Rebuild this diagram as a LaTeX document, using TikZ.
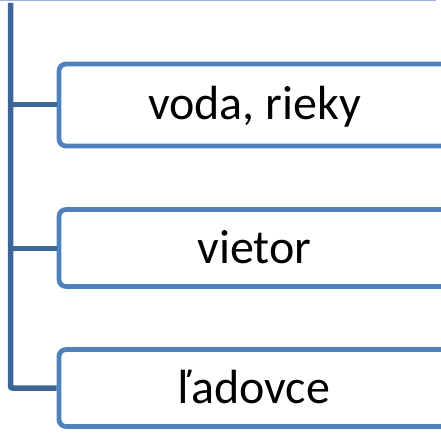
\documentclass[tikz,border=0pt]{standalone}
\usepackage{fontspec}
\setmainfont{Carlito}
\definecolor{boxblue}{HTML}{4F81BD}
\definecolor{linkblue}{HTML}{3D6696}
\definecolor{edgeblue}{HTML}{95B3D7}
\tikzset{
  item/.style={draw=boxblue,line width=4.8pt,fill=white,rounded corners=7pt,
    minimum width=391pt,text height=30pt,text depth=0pt,inner sep=0pt,
    font=\fontsize{48}{58}\selectfont},
  link/.style={draw=linkblue,line width=5pt}
}

\begin{document}
\begin{tikzpicture}[x=1pt,y=-1pt]
\useasboundingbox (0,0) rectangle (441,433);
\clip (0,0) rectangle (441,433);
\draw [edgeblue,line width=1.5pt] (0,0.6) -- (436,0.6);
\node (voda) [item,minimum height=82pt] at (254.5,105) {voda, rieky};
\node (vietor) [item,minimum height=77pt] at (254.5,248) {vietor};
\node (ladovce) [item,minimum height=77pt] at (254.5,388) {ľadovce};
\coordinate (root) at (10.5,3);
\draw [link,line width=5.5pt,rounded corners=2pt] (root) |- (ladovce.west);
\draw [link] (root |- voda.west) -- (voda.west);
\draw [link] (root |- vietor.west) -- (vietor.west);
\end{tikzpicture}
\end{document}
